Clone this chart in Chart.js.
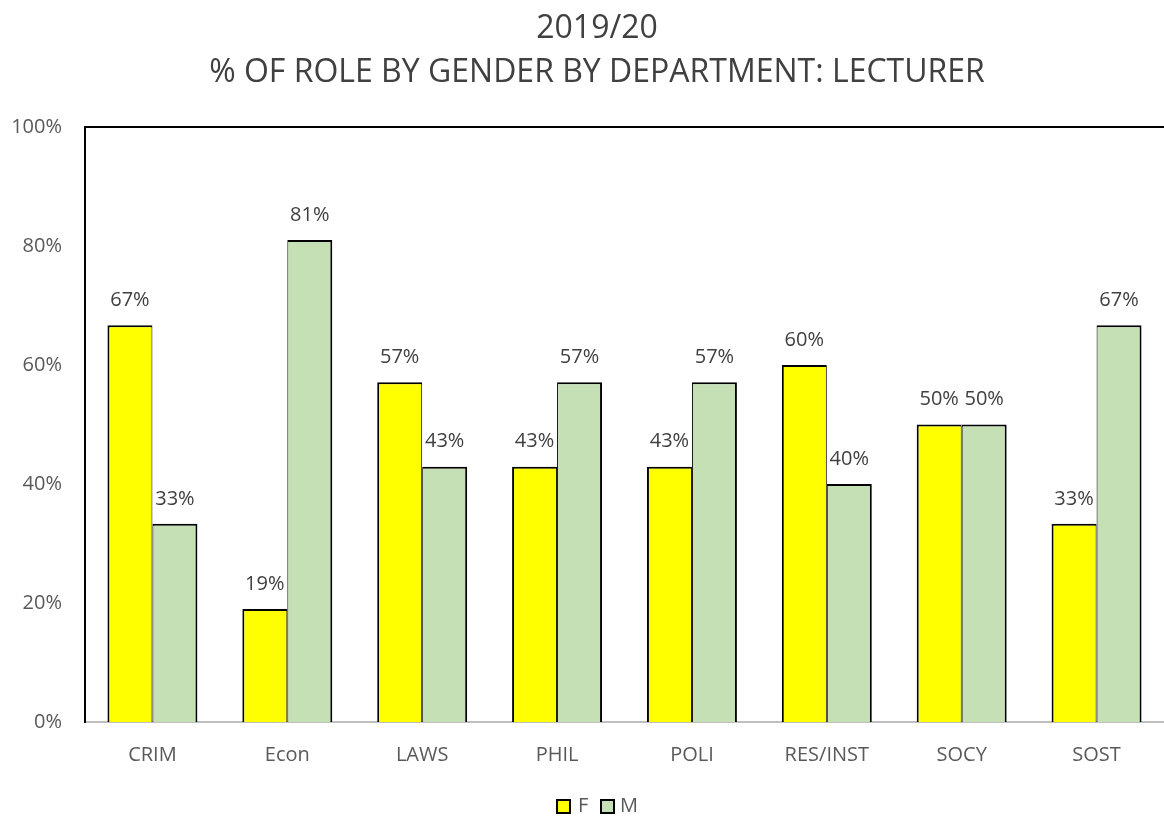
<!DOCTYPE html>
<html lang="en">
<head>
    <meta charset="UTF-8">
    <title>2019/20 % of role by gender by department: Lecturer</title>
    <script src="https://cdn.jsdelivr.net/npm/chart.js@4.4.1/dist/chart.umd.min.js"></script>
    <style>
        html, body { margin: 0; padding: 0; background: #fff; overflow: hidden; }
        #wrap { width: 1164px; height: 818px; }
    </style>
</head>
<body>
    <div id="wrap"><canvas id="chart"></canvas></div>

    <script>
        const departments = ['CRIM', 'Econ', 'LAWS', 'PHIL', 'POLI', 'RES/INST', 'SOCY', 'SOST'];
        const female = [66.7, 19.0, 57.1, 42.9, 42.9, 60.0, 50.0, 33.3];
        const male = [33.3, 81.0, 42.9, 57.1, 57.1, 40.0, 50.0, 66.7];
        const titleLines = ['2019/20', '% OF ROLE BY GENDER BY DEPARTMENT: LECTURER'];

        const FONT = '"Open Sans", sans-serif';

        // title + legend drawn by hand so the plot area stays where we want it
        const titleLegend = {
            id: 'titleLegend',
            afterDraw(chart) {
                const ctx = chart.ctx;
                ctx.save();
                ctx.fillStyle = '#404040';
                ctx.font = '32px ' + FONT;
                ctx.textAlign = 'center';
                ctx.textBaseline = 'middle';
                titleLines.forEach((t, i) => ctx.fillText(t, 597, 29 + i * 44));

                // legend
                const items = [[557, 578], [601, 620]];
                ctx.font = '20px ' + FONT;
                ctx.textAlign = 'left';
                chart.data.datasets.forEach((ds, i) => {
                    const [bx, tx] = items[i];
                    ctx.fillStyle = ds.backgroundColor;
                    ctx.fillRect(bx, 800, 13, 13);
                    ctx.strokeStyle = '#000';
                    ctx.lineWidth = 2;
                    ctx.strokeRect(bx, 800, 13, 13);
                    ctx.fillStyle = '#595959';
                    ctx.fillText(ds.label, tx, 806);
                });
                ctx.restore();
            }
        };

        // value labels above the bars + top border of the plot area
        const barLabels = {
            id: 'barLabels',
            afterDatasetsDraw(chart) {
                const ctx = chart.ctx;
                const a = chart.chartArea;
                ctx.save();
                ctx.strokeStyle = '#000';
                ctx.lineWidth = 2;
                ctx.beginPath();
                ctx.moveTo(a.left - 1, a.top);
                ctx.lineTo(a.right + 5, a.top);
                ctx.stroke();

                ctx.fillStyle = '#404040';
                ctx.font = '20px ' + FONT;
                ctx.textAlign = 'center';
                ctx.textBaseline = 'middle';
                chart.data.datasets.forEach((ds, i) => {
                    chart.getDatasetMeta(i).data.forEach((bar, j) => {
                        ctx.fillText(Math.round(ds.data[j]) + '%', bar.x, bar.y - 25);
                    });
                });
                ctx.restore();
            }
        };

        new Chart(document.getElementById('chart'), {
            type: 'bar',
            data: {
                labels: departments,
                datasets: [
                    {
                        label: 'F',
                        data: female,
                        backgroundColor: '#FFFF00',
                        borderColor: '#000',
                        borderWidth: { top: 2, left: 2, right: 1, bottom: 0 },
                        borderSkipped: false
                    },
                    {
                        label: 'M',
                        data: male,
                        backgroundColor: '#C5E0B4',
                        borderColor: '#000',
                        borderWidth: { top: 2, left: 1, right: 2, bottom: 0 },
                        borderSkipped: false
                    }
                ]
            },
            options: {
                responsive: true,
                maintainAspectRatio: false,
                animation: false,
                layout: { padding: { top: 127, right: 0, left: 0, bottom: 0 } },
                datasets: { bar: { categoryPercentage: 0.667, barPercentage: 1.0 } },
                scales: {
                    x: {
                        grid: { display: false },
                        border: { color: '#BFBFBF', width: 2 },
                        ticks: { color: '#595959', font: { family: FONT, size: 20 }, padding: 13 },
                        afterFit: s => { s.height = 96; }
                    },
                    y: {
                        min: 0,
                        max: 100,
                        grid: { display: false },
                        border: { color: '#000', width: 2 },
                        ticks: {
                            stepSize: 20,
                            color: '#595959',
                            font: { family: FONT, size: 20 },
                            padding: 15,
                            callback: v => v + '%'
                        },
                        afterFit: s => { s.width = 85; }
                    }
                },
                plugins: {
                    legend: { display: false },
                    tooltip: { enabled: false }
                }
            },
            plugins: [titleLegend, barLabels]
        });
    </script>
</body>
</html>
